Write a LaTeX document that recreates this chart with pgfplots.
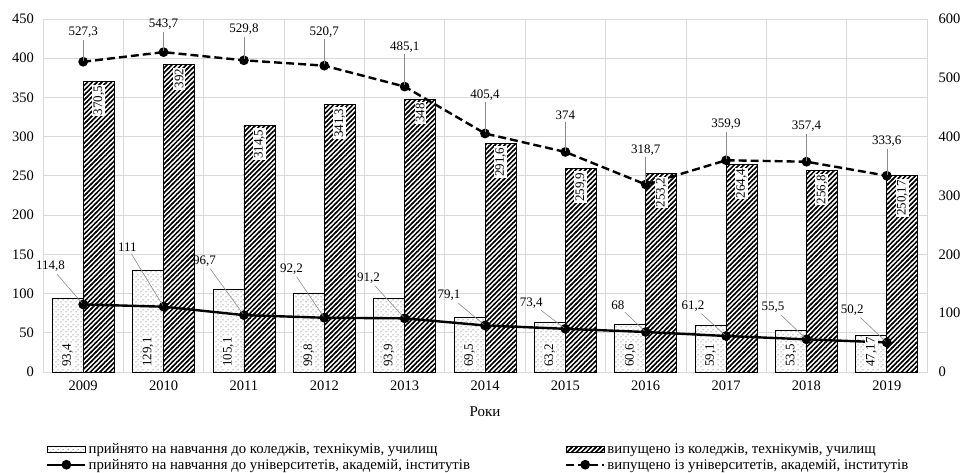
\documentclass[border=0pt]{standalone}
\usepackage{fontspec}
\setmainfont{Liberation Serif}
\usepackage{pgfplots}
\pgfplotsset{compat=1.18}
\usepackage{pgfplotstable}
\usetikzlibrary{patterns}

\pgfdeclarepatternformonly{thickhatch}{\pgfqpoint{-0.1pt}{-0.1pt}}{\pgfqpoint{4.9pt}{4.9pt}}{\pgfqpoint{4.8pt}{4.8pt}}{
  \pgfsetlinewidth{1.5pt}
  \pgfpathmoveto{\pgfqpoint{-1pt}{-1pt}}\pgfpathlineto{\pgfqpoint{5.8pt}{5.8pt}}
  \pgfpathmoveto{\pgfqpoint{-1pt}{3.8pt}}\pgfpathlineto{\pgfqpoint{1pt}{5.8pt}}
  \pgfpathmoveto{\pgfqpoint{3.8pt}{-1pt}}\pgfpathlineto{\pgfqpoint{5.8pt}{1pt}}
  \pgfusepath{stroke}
}
\pgfdeclarepatternformonly{sparsedots}{\pgfqpoint{0pt}{0pt}}{\pgfqpoint{5pt}{5pt}}{\pgfqpoint{5pt}{5pt}}{
  \pgfpathcircle{\pgfqpoint{1.2pt}{1.2pt}}{0.6pt}
  \pgfpathcircle{\pgfqpoint{3.7pt}{3.7pt}}{0.6pt}
  \pgfusepath{fill}
}

% x year colleges-admitted colleges-graduated univ-admitted univ-graduated
% pa/pd: leader angle/distance of the univ-admitted labels, qd: distance of univ-graduated labels
\pgfplotstableread{
x year dot hat uni out pa pd qd
0 2009 93.4 370.5 114.8 527.3 118 33 21
1 2010 129.1 392 111 543.7 115 57 19
2 2011 105.1 314.5 96.7 529.8 119 52 22
3 2012 99.8 341.3 92.2 520.7 115 44 25
4 2013 93.9 348 91.2 485.1 125 38 31
5 2014 69.5 291.6 79.1 405.4 135 30 30
6 2015 63.2 259.9 73.4 374 138 26 29
7 2016 60.6 253.2 68 318.7 134 26 26
8 2017 59.1 264.4 61.2 359.9 131 28 27
9 2018 53.5 256.8 55.5 357.4 129 30 27
10 2019 47.17 250.17 50.2 333.6 130 31 26
}\data

\definecolor{boxwhite}{gray}{0.995}
\definecolor{labblack}{gray}{0.02}
\tikzset{lab/.style={font=\fontsize{13}{15}\selectfont, text=black}}
\pgfplotsset{
  base/.style={
    scale only axis, width=884pt, height=353pt,
    at={(43pt,100pt)}, anchor=south west,
    xmin=-0.5, xmax=10.5,
    /pgf/number format/assume math mode=true,
    /pgf/number format/use comma,
    /pgf/number format/1000 sep={},
    tick label style={font=\fontsize{14.5}{16}\selectfont},
    major tick length=0pt, minor tick length=0pt,
    clip=false,
  },
  dotstyle/.style={draw=black, line width=0.8pt, fill=white,
    postaction={pattern=sparsedots, pattern color=black!80}},
  hatstyle/.style={draw=black, line width=0.8pt, fill=white,
    postaction={pattern=thickhatch, pattern color=black}},
  mylinelegend/.style={legend image code/.code={\draw[mark repeat=2,mark phase=2,##1] plot coordinates {(0pt,0pt)(19pt,0pt)(38pt,0pt)};}},
  mybarlegend/.style={legend image code/.code={\draw[##1] (0pt,-3pt) rectangle (38pt,3pt);}},
}

\begin{document}
\begin{tikzpicture}
\useasboundingbox (0,0) rectangle (964pt,472pt);

% ---- bars (left axis)
\begin{axis}[base,
  ymin=0, ymax=450, ytick={0,50,...,450},
  xtick={0,...,10},
  xticklabels={2009,2010,2011,2012,2013,2014,2015,2016,2017,2018,2019},
  minor xtick={-0.5,0.5,...,10.5},
  xminorgrids, ymajorgrids,
  grid style={draw=black!15, line width=0.8pt},
  minor grid style={draw=black!15, line width=0.8pt},
  axis line style={draw=black!15, line width=0.8pt},
  yticklabel style={xshift=-5.5pt},
  xticklabel style={yshift=-5.5pt},
  xlabel={Роки},
  xlabel style={font=\fontsize{15}{17}\selectfont, at={(axis description cs:0.5,-0.112)}, anchor=center},
  ybar, bar width=31pt,
]
\addplot[dotstyle, bar shift=-15.5pt] table[x=x,y=dot]{\data};
\addplot[hatstyle, bar shift=15.5pt] table[x=x,y=hat]{\data};
\end{axis}

% ---- lines (right axis)
\begin{axis}[base,
  ymin=0, ymax=600, ytick={0,100,...,600},
  axis x line=none, axis y line*=right,
  y axis line style={draw=none},
  yticklabel style={xshift=8pt},
  legend columns=2,
  legend cell align=left,
  legend style={draw=none, fill=none, at={(0,-0.19)}, anchor=north west,
    font=\fontsize{14.8}{16}\selectfont,
    /tikz/column 2/.style={column sep=93pt},
    row sep=0pt},
]
\addlegendimage{dotstyle, mybarlegend}
\addlegendentry{прийнято на навчання до коледжів, технікумів, училищ}
\addlegendimage{hatstyle, mybarlegend}
\addlegendentry{випущено із коледжів, технікумів, училищ}

\addplot[black, line width=2.4pt, mark=*, mark size=3.6pt, mylinelegend,
  visualization depends on={\thisrow{pa}\as\pa},
  visualization depends on={\thisrow{pd}\as\pd},
  nodes near coords={},
  every node near coord/.style={inner sep=0pt, minimum size=0pt, anchor=center,
    pin={[pin distance=\pd pt, lab, inner sep=1pt, pin edge={solid, draw=black!45, line width=0.6pt}]\pa:{\pgfmathprintnumber{\pgfplotspointmeta}}}},
] table[x=x,y=uni]{\data};
\addlegendentry{прийнято на навчання до університетів, академій, інститутів}

\addplot[black, line width=2.4pt, dash pattern=on 8pt off 4pt, mark=*, mark size=3.6pt, mark options={solid}, mylinelegend,
  visualization depends on={\thisrow{qd}\as\qd},
  nodes near coords={},
  every node near coord/.style={inner sep=0pt, minimum size=0pt, anchor=center,
    pin={[pin distance=\qd pt, lab, inner sep=1pt, pin edge={solid, draw=black!45, line width=0.6pt}]90:{\pgfmathprintnumber{\pgfplotspointmeta}}}},
] table[x=x,y=out]{\data};
\addlegendentry{випущено із університетів, академій, інститутів}
\end{axis}

% ---- bar labels (left axis scale, on top)
\begin{axis}[base, ymin=0, ymax=450, hide axis]
\addplot[only marks, mark=none, point meta=explicit, nodes near coords,
  every node near coord/.style={font=\fontsize{13}{15}\selectfont, text=labblack, xshift=-15.5pt, yshift=4pt, rotate=90, anchor=west, fill=boxwhite, draw=none, inner sep=1.2pt}]
  table[x=x, y expr=0, meta=dot]{\data};
\addplot[only marks, mark=none, point meta=explicit, nodes near coords,
  every node near coord/.style={font=\fontsize{13}{15}\selectfont, text=labblack, xshift=15.5pt, yshift=-3pt, rotate=90, anchor=east, fill=boxwhite, draw=none, inner sep=1.2pt}]
  table[x=x, y=hat, meta=hat]{\data};
\end{axis}
\end{tikzpicture}
\end{document}
